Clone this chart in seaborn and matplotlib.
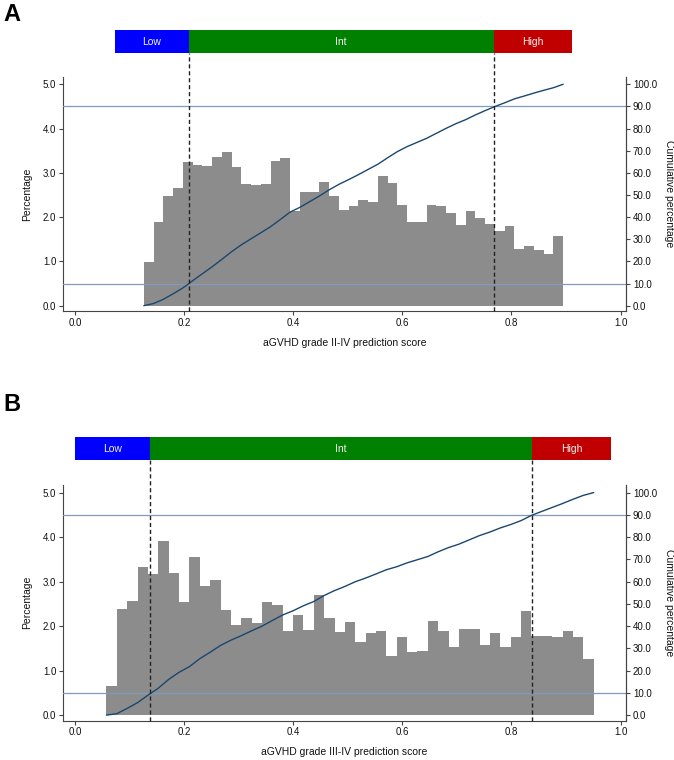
import numpy as np
import pandas as pd
import matplotlib
matplotlib.use("Agg")
import matplotlib.pyplot as plt
import seaborn as sns
from matplotlib.patches import Rectangle
from matplotlib.ticker import FormatStrFormatter

# ---------------- data ----------------
# Panel A : aGVHD grade II-IV
a_pct = [0.98, 1.90, 2.48, 2.66, 3.24, 3.18, 3.16, 3.36, 3.48, 3.12,
         2.75, 2.72, 2.75, 3.26, 3.34, 2.14, 2.57, 2.57, 2.79, 2.48,
         2.15, 2.25, 2.38, 2.35, 2.93, 2.78, 2.27, 1.88, 1.88, 2.27,
         2.25, 2.10, 1.82, 2.14, 1.97, 1.84, 1.68, 1.79, 1.28, 1.34,
         1.25, 1.17, 1.58]
a_first_edge = 0.1256
a_bin_width = 0.01789
a_group_bounds = [0.0734, 0.208, 0.767, 0.911]
a_xlabel = "aGVHD grade II-IV prediction score"

# Panel B : aGVHD grade III-IV
b_pct = [0.665, 2.38, 2.57, 3.33, 3.16, 3.91, 3.19, 2.54, 3.56, 2.90,
         3.03, 2.36, 2.02, 2.18, 2.08, 2.55, 2.48, 1.88, 2.24, 1.91,
         2.71, 2.18, 1.87, 2.10, 1.65, 1.84, 1.89, 1.34, 1.75, 1.41,
         1.43, 2.12, 1.89, 1.52, 1.94, 1.94, 1.57, 1.84, 1.52, 1.75,
         2.35, 1.78, 1.77, 1.76, 1.89, 1.75, 1.27]
b_first_edge = 0.0572
b_bin_width = 0.01901
b_group_bounds = [0.0, 0.137, 0.838, 0.983]
b_xlabel = "aGVHD grade III-IV prediction score"

groups = ["Low", "Int", "High"]
group_colors = ["#0000ff", "#008000", "#c00000"]
x_ticks = [0.0, 0.2, 0.4, 0.6, 0.8, 1.0]
left_ticks = [0.0, 1.0, 2.0, 3.0, 4.0, 5.0]
right_ticks = [0, 10, 20, 30, 40, 50, 60, 70, 80, 90, 100]
ref_cum = [10, 90]

# ---------------- style ----------------
sns.set_style("ticks")
plt.rcParams["font.family"] = ["Liberation Sans", "DejaVu Sans"]
plt.rcParams["axes.edgecolor"] = "#444444"
plt.rcParams["xtick.color"] = "#444444"
plt.rcParams["ytick.color"] = "#444444"
plt.rcParams["xtick.labelcolor"] = "#111111"
plt.rcParams["ytick.labelcolor"] = "#111111"
plt.rcParams["text.color"] = "#111111"
plt.rcParams["axes.labelcolor"] = "#111111"

W, H = 674, 760
fig = plt.figure(figsize=(W / 100, H / 100), dpi=100)

BAR_COL = "#8c8c8c"
LINE_COL = "#1a476f"
REF_COL = "#7f9cc0"
FS = 7


def fr(px_left, px_top, px_right, px_bottom):
    return [px_left / W, 1 - px_bottom / H, (px_right - px_left) / W, (px_bottom - px_top) / H]


def panel(ax_box, bar_box, pct, first, width, bounds, xlabel, letter, letter_top):
    ax = fig.add_axes(fr(*ax_box))
    pct = np.asarray(pct, dtype=float)
    edges = first + width * np.arange(len(pct) + 1)
    centers = (edges[:-1] + edges[1:]) / 2
    df = pd.DataFrame({"score": centers, "pct": pct})
    sns.histplot(data=df, x="score", weights="pct", bins=edges.tolist(),
                 element="step", fill=True, color=BAR_COL, alpha=1.0,
                 linewidth=0, ax=ax)
    xlo, xhi = -0.022, 1.01
    ylo, yhi = -0.12, 5.17
    ax.set_xlim(xlo, xhi)
    ax.set_ylim(ylo, yhi)
    ax.set_xticks(x_ticks)
    ax.set_yticks(left_ticks)
    ax.xaxis.set_major_formatter(FormatStrFormatter("%.1f"))
    ax.yaxis.set_major_formatter(FormatStrFormatter("%.1f"))
    ax.tick_params(axis="both", labelsize=FS, length=3, width=0.8, pad=2)
    ax.set_xlabel(xlabel, fontsize=FS + 0.5, labelpad=7)
    ax.set_ylabel("Percentage", fontsize=FS + 0.5, labelpad=8)
    ax.spines["top"].set_visible(False)
    for s in ["left", "bottom", "right"]:
        ax.spines[s].set_linewidth(0.8)

    ax2 = ax.twinx()
    cum = np.concatenate([[0.0], np.cumsum(pct)]) / pct.sum() * 100
    for r in ref_cum:
        ax2.axhline(r, color=REF_COL, lw=0.9, zorder=1)
    sns.lineplot(x=edges, y=cum, ax=ax2, color=LINE_COL, lw=1.0,
                 estimator=None, sort=False, zorder=3)
    ax2.set_ylim(ylo * 20, yhi * 20)
    ax2.set_yticks(right_ticks)
    ax2.yaxis.set_major_formatter(FormatStrFormatter("%.1f"))
    ax2.tick_params(axis="y", labelsize=FS, length=3, width=0.8, pad=2)
    ax2.set_ylabel("Cumulative percentage", fontsize=FS + 0.5, rotation=270,
                   labelpad=12)
    ax2.spines["top"].set_visible(False)
    ax2.spines["right"].set_linewidth(0.8)
    ax2.spines["left"].set_visible(False)
    ax2.spines["bottom"].set_visible(False)

    # risk group bar
    bax = fig.add_axes(fr(ax_box[0], bar_box[0], ax_box[2], bar_box[1]))
    bax.set_xlim(xlo, xhi)
    bax.set_ylim(0, 1)
    bax.axis("off")
    for i, g in enumerate(groups):
        bax.add_patch(Rectangle((bounds[i], 0), bounds[i + 1] - bounds[i], 1,
                                facecolor=group_colors[i], edgecolor="none"))
        bax.text((bounds[i] + bounds[i + 1]) / 2, 0.5, g, color="#f2f2f2",
                 fontsize=FS + 0.5, ha="center", va="center")

    # dashed cut lines from axis bottom to group bar
    ax_h = ax_box[3] - ax_box[1]
    ymax = (ax_box[3] - bar_box[1]) / ax_h
    for c in bounds[1:3]:
        ax2.axvline(c, ymin=0, ymax=ymax, color="#222222", lw=1.0,
                    ls=(0, (3, 2)), clip_on=False, zorder=4)

    fig.text(3 / W, 1 - letter_top / H, letter, fontsize=17, fontweight="bold",
             color="black", ha="left", va="top")


panel((63.3, 76.7, 626, 311), (30, 53.3), a_pct, a_first_edge, a_bin_width,
      a_group_bounds, a_xlabel, "A", 3)
panel((63.3, 485, 626, 720.5), (437, 460), b_pct, b_first_edge, b_bin_width,
      b_group_bounds, b_xlabel, "B", 393)

fig.savefig("out.png", dpi=100, facecolor="white")
